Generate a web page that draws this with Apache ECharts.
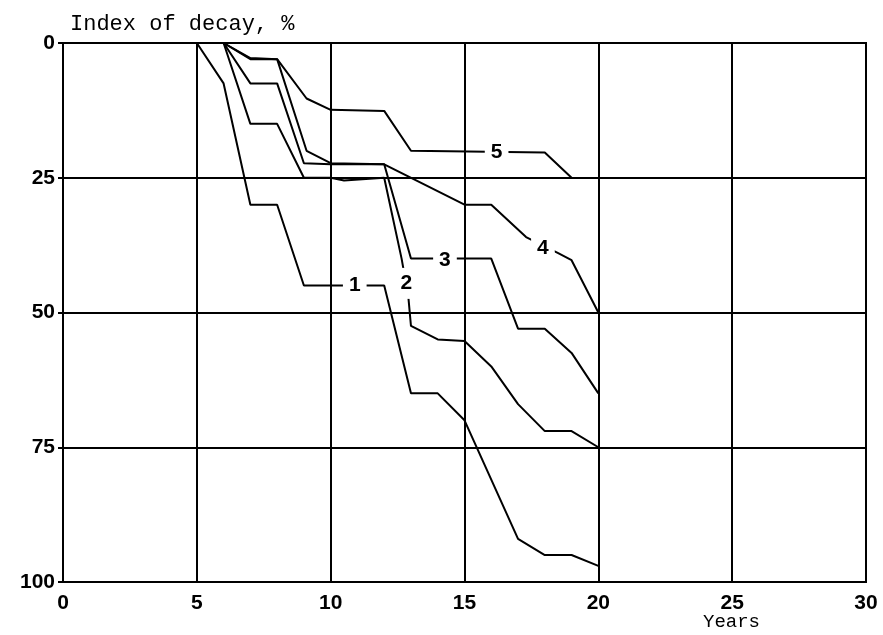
<!DOCTYPE html>
<html><head><meta charset="utf-8">
<script src="https://cdn.jsdelivr.net/npm/echarts@6/dist/echarts.min.js"></script>
<style>html,body{margin:0;padding:0;background:#fff}#c{width:883px;height:635px}</style>
</head><body><div id="c"></div>
<script>
const xTicks = [0, 5, 10, 15, 20, 25, 30];
const yTicks = [0, 25, 50, 75, 100];
const line1 = [[5,0],[6,7.5],[7,30],[8,30],[9,45],[12,45],[13,65],[14,65],[15,70],[17,92],[18,95],[19,95],[20,97]];
const line2 = [[6,0],[7,15],[8,15],[9,25],[10,25],[10.5,25.5],[12,25],[12.65,40],[12.9,47],[13,52.5],[14,55],[15,55.3],[16,60],[17,67],[18,72],[19,72],[20,75]];
const line3 = [[6,0],[7,7.5],[8,7.5],[9,22.3],[10,22.5],[12,22.5],[13,40],[16,40],[17,53],[18,53],[19,57.5],[20,65]];
const line4 = [[6,0],[7,3],[8,3],[9.1,20],[10,22.3],[12,22.5],[15,30],[16,30],[17.3,36],[18.5,39],[19,40.3],[20,50]];
const line5 = [[6,0],[7,2.8],[8,3],[9.1,10.3],[10,12.4],[12,12.6],[13,20],[18,20.3],[19,25]];
const lineLabels = [[10.9,45,'1'],[12.83,44.6,'2'],[14.27,40.3,'3'],[17.93,38,'4'],[16.2,20.2,'5']];

const chart = echarts.init(document.getElementById('c'), null, {renderer:'canvas'});
const tickFont = {fontFamily:"'Liberation Sans',Arial,sans-serif", fontWeight:'bold', fontSize:21, color:'#000'};
const mkLine = d => ({type:'line', data:d, symbol:'none', smooth:false, lineStyle:{color:'#000', width:2}, z:3, silent:true});
option = {
  animation:false,
  backgroundColor:'#fff',
  title:{text:'Index of decay, %', left:65, top:8, textStyle:{fontFamily:"'Liberation Mono','DejaVu Sans Mono',monospace", fontWeight:'normal', fontSize:22, color:'#000'}},
  grid:{left:63, right:17, top:43, bottom:53, show:true, borderColor:'#000', borderWidth:2, backgroundColor:'transparent'},
  xAxis:{type:'value', min:0, max:30, interval:5,
    axisLine:{show:true, lineStyle:{color:'#000', width:2}}, axisTick:{show:true, length:4, lineStyle:{color:'#000', width:2}},
    splitLine:{show:true, lineStyle:{color:'#000', width:2}},
    axisLabel:Object.assign({margin:11, formatter:v=>xTicks.includes(v)?String(v):''}, tickFont)},
  yAxis:{type:'value', min:0, max:100, interval:25, inverse:true,
    axisLine:{show:true, lineStyle:{color:'#000', width:2}}, axisTick:{show:true, length:5, lineStyle:{color:'#000', width:2}},
    splitLine:{show:true, lineStyle:{color:'#000', width:2}},
    axisLabel:Object.assign({margin:8, formatter:v=>yTicks.includes(v)?String(v):''}, tickFont)},
  graphic:[{type:'text', left:703, top:612, style:{text:'Years', font:"normal 19px 'Liberation Mono','DejaVu Sans Mono',monospace", fill:'#000'}}],
  series:[mkLine(line1), mkLine(line2), mkLine(line3), mkLine(line4), mkLine(line5),
    {type:'scatter', data:lineLabels, symbolSize:0, z:5, silent:true, itemStyle:{opacity:1},
     label:{show:true, position:'inside', opacity:1, formatter:p=>p.data[2], color:'#000', fontFamily:"'Liberation Sans',Arial,sans-serif", fontWeight:'bold', fontSize:21, backgroundColor:'#fff', padding:[5,6,5,6]}}]
};
chart.setOption(option);
</script></body></html>
